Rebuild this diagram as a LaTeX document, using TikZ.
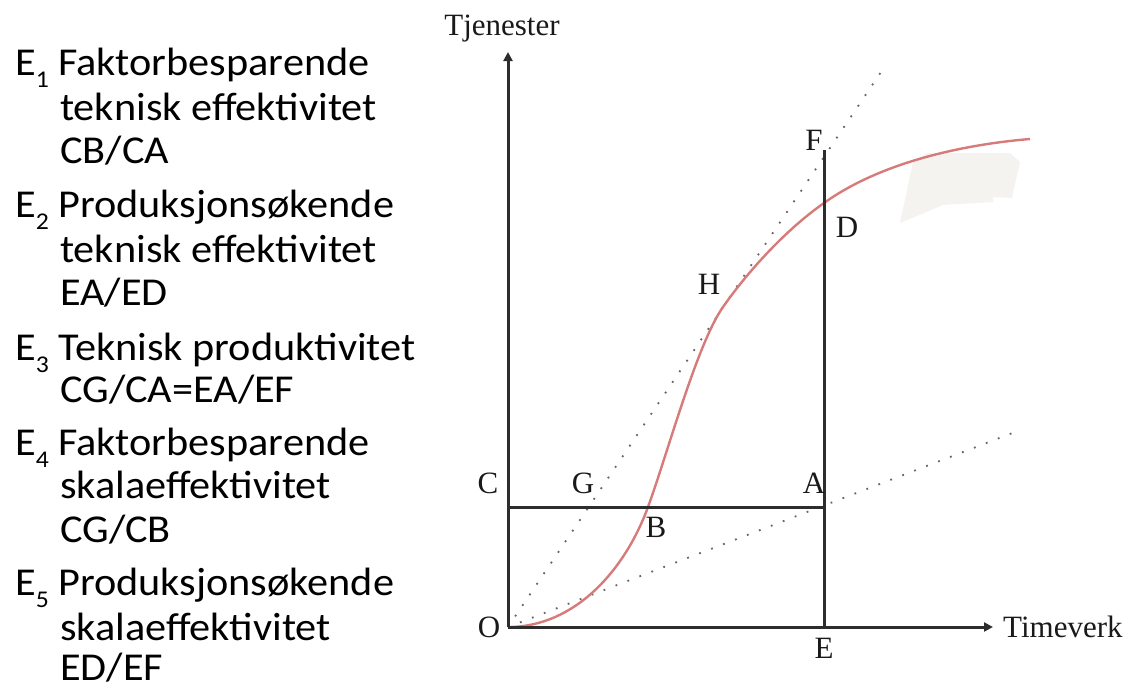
\documentclass[tikz,border=0pt]{standalone}
\usepackage{fontspec}
\setmainfont{Liberation Serif}
\newfontfamily\calib[FakeStretch=1.07]{Carlito}
\usetikzlibrary{arrows.meta}
\definecolor{curvecol}{RGB}{215,122,122}
\definecolor{blobcol}{RGB}{244,243,239}
\definecolor{axiscol}{RGB}{45,45,45}
\newcommand\Esub[1]{E\raisebox{-12pt}{\fontsize{24}{24}\selectfont #1}}
\begin{document}
\begin{tikzpicture}[x=1pt,y=-1pt,
  axisline/.style={line width=3pt, draw=axiscol},
  arrowline/.style={axisline, -{Triangle[length=9pt,width=9pt]}},
  curveline/.style={line width=2.4pt, draw=curvecol},
  rayline/.style={line width=1.8pt, draw=black!60, dash pattern=on 1.8pt off 11pt},
  lbl/.style={font=\fontsize{31}{31}\selectfont, anchor=base, inner sep=0pt, text=black!90},
  txt/.style={font=\calib\fontsize{39.5}{40}\selectfont, anchor=base west, inner sep=0pt, text=black},
]
\useasboundingbox (0,0) rectangle (1137,688);

% faint patch
\fill[blobcol] (913,162) -- (900,223) -- (943,205) -- (993,202) -- (993,197) -- (1012,198) -- (1020,162) -- (1010,153) -- (927,153) -- cycle;

% key points
\coordinate (O) at (508,627);
\coordinate (Ytip) at (508,52);
\coordinate (Xtip) at (993,627);
\coordinate (Ctop) at (508,507);
\coordinate (Apt) at (824,507);
\coordinate (Ept) at (824,627);
\coordinate (Fpt) at (824,150);
\coordinate (Bpt) at (648,507);
\coordinate (Hpt) at (723,307);
\coordinate (Dpt) at (824,203);
\coordinate (Cend) at (1030,139);
\coordinate (R1end) at (881,72);
\coordinate (R2end) at (1015,432);

% dotted rays
\draw[rayline] (O) -- (R1end);
\draw[rayline] (O) -- (R2end);

% production curve
\draw[curveline] (O) .. controls (575,627) and (625,570) .. (Bpt)
  .. controls (668,452) and (697,344) .. (Hpt)
  .. controls (746,274) and (784,231) .. (Dpt)
  .. controls (884,160) and (970,144) .. (Cend);

% axes and lines
\draw[arrowline] (O) -- (Ytip);
\draw[arrowline] (O) -- (Xtip);
\draw[axisline] (Ctop) -- (Apt);
\draw[axisline] (Ept) -- (Fpt);

% axis labels
\node[lbl] (tj) at (502,35) {Tjenester};
\node[lbl, anchor=base west] (tv) at (1003,637) {Timeverk};

% point labels
\node[lbl] (lF) at (814,150) {F};
\node[lbl] (lD) at (847,237) {D};
\node[lbl] (lH) at (709,294) {H};
\node[lbl] (lB) at (656,537) {B};
\node[lbl] (lG) at (583,493) {G};
\node[lbl] (lA) at (814,493) {A};
\node[lbl] (lC) at (488,493) {C};
\node[lbl] (lO) at (489,637) {O};
\node[lbl] (lE) at (824,658) {E};

% left text
\node[txt] (t1a) at (15,75) {\Esub{1} Faktorbesparende};
\node[txt] (t1b) at (60,120) {teknisk effektivitet};
\node[txt] (t1c) at (60,163) {CB/CA};
\node[txt] (t2a) at (15,217) {\Esub{2} Produksjonsøkende};
\node[txt] (t2b) at (60,262) {teknisk effektivitet};
\node[txt] (t2c) at (60,305) {EA/ED};
\node[txt] (t3a) at (15,360) {\Esub{3} Teknisk produktivitet};
\node[txt] (t3b) at (60,402) {CG/CA=EA/EF};
\node[txt] (t4a) at (15,455) {\Esub{4} Faktorbesparende};
\node[txt] (t4b) at (60,498) {skalaeffektivitet};
\node[txt] (t4c) at (60,542) {CG/CB};
\node[txt] (t5a) at (15,595) {\Esub{5} Produksjonsøkende};
\node[txt] (t5b) at (60,640) {skalaeffektivitet};
\node[txt] (t5c) at (60,680) {ED/EF};
\end{tikzpicture}
\end{document}
